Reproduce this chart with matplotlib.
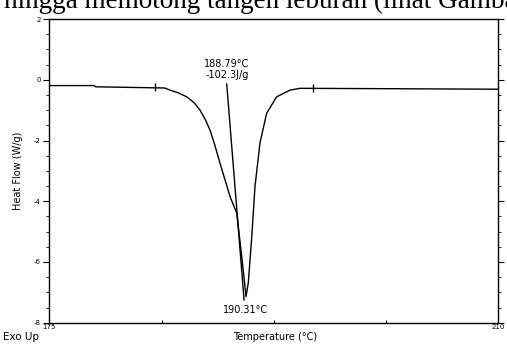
import matplotlib
matplotlib.use("Agg")
import matplotlib.pyplot as plt
from matplotlib.ticker import MultipleLocator, FixedLocator

# ---- data ----
temperature = [175.0, 178.5, 178.6, 184.0, 184.41, 185.0, 185.71, 186.3, 186.75, 187.15,
               187.53, 187.9, 188.30, 188.7, 189.09, 189.61, 190.0, 190.2, 190.33,
               190.51, 190.78, 191.03, 191.42, 191.94, 192.72, 193.76, 194.54, 200.0,
               205.0, 210.0]
heat_flow = [-0.19, -0.19, -0.23, -0.27, -0.34, -0.42, -0.56, -0.76, -1.0, -1.30,
             -1.66, -2.15, -2.74, -3.30, -3.85, -4.39, -5.83, -6.60, -7.14,
             -6.69, -5.17, -3.52, -2.08, -1.10, -0.56, -0.34, -0.28, -0.29,
             -0.30, -0.31]
tangent_x = [188.83, 190.18]
tangent_y = [-0.14, -7.25]
limit_x = [183.24, 195.53]
limit_y = [-0.25, -0.28]
onset_label = "188.79°C\n-102.3J/g"
peak_label = "190.31°C"
x_min, x_max = 175, 210
y_min, y_max = -8, 2
y_ticks = [2, 0, -2, -4, -6, -8]

fig = plt.figure(figsize=(5.07, 3.47), dpi=100)
fig.patch.set_facecolor("white")
ax = fig.add_axes([0.0972, 0.070, 0.983 - 0.0972, 0.945 - 0.070])

ax.plot(temperature, heat_flow, color="black", lw=1.0)
ax.plot(tangent_x, tangent_y, color="black", lw=1.0)
ax.plot(limit_x, limit_y, ls="none", marker="|", markersize=6, color="black", mew=1.0)

ax.set_xlim(x_min, x_max)
ax.set_ylim(y_min, y_max)

sans = ["DejaVu Sans"]
ax.yaxis.set_major_locator(FixedLocator(y_ticks))
ax.yaxis.set_minor_locator(MultipleLocator(0.5))
ax.set_yticklabels([str(t) for t in y_ticks], fontsize=5, family=sans)
ax.tick_params(axis="y", which="major", direction="out", length=4, width=0.8, pad=2)
ax.tick_params(axis="y", which="minor", direction="out", length=2, width=0.6)
ax.tick_params(axis="y", which="both", right=True, labelright=False)

ax.xaxis.set_major_locator(FixedLocator([175, 183.75, 192.5, 201.25, 210]))
ax.set_xticklabels(["175", "", "", "", "210"], fontsize=5, family=sans)
ax.tick_params(axis="x", which="major", direction="in", length=2, width=0.8, pad=1)

for s in ax.spines.values():
    s.set_linewidth(1.0)
    s.set_color("black")

ax.set_ylabel("Heat Flow (W/g)", fontsize=7, family=sans, labelpad=10)
ax.yaxis.set_label_coords(-0.058, 0.5)

ax.text(188.83, -0.02, onset_label, ha="center", va="bottom", fontsize=7,
        family=sans, linespacing=1.15)
ax.text(190.3, -7.42, peak_label, ha="center", va="top", fontsize=7, family=sans)

fig.text(275 / 507, 1 - 337 / 347, "Temperature (°C)", ha="center", va="center",
         fontsize=7, family=sans)
fig.text(3 / 507, 1 - 337 / 347, "Exo Up", ha="left", va="center",
         fontsize=7.5, family=sans)

fig.text(4 / 507, 1 - 7.5 / 347, "hingga memotong tangen leburan (lihat Gambar",
         ha="left", va="baseline", fontsize=19.5, family=["Liberation Serif", "DejaVu Serif"])

fig.savefig("out.png", dpi=100)
